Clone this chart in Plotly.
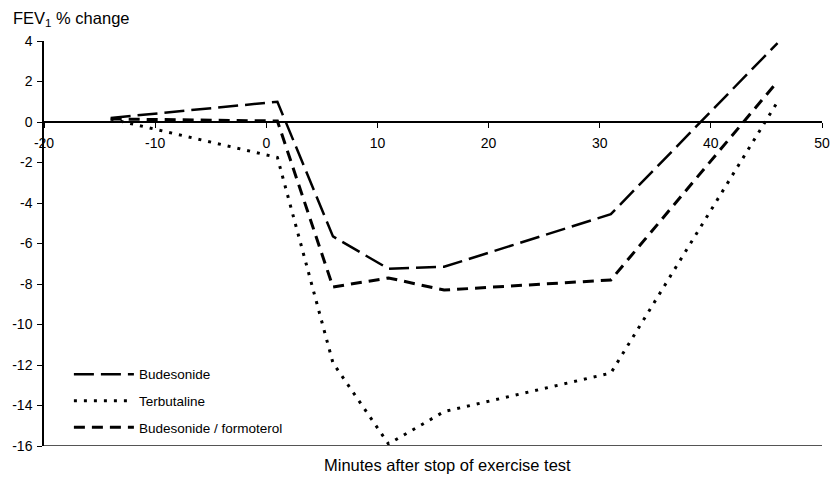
import plotly.graph_objects as go

minutes = [-14, 1, 6, 11, 16, 31, 46]
budesonide = [0.2, 1.0, -5.65, -7.25, -7.15, -4.55, 3.9]
terbutaline = [0.15, -1.75, -11.9, -15.9, -14.3, -12.4, 1.0]
bud_form = [0.15, 0.05, -8.15, -7.7, -8.3, -7.8, 2.0]

series_names = ["Budesonide", "Terbutaline", "Budesonide / formoterol"]
x_ticks = [-20, -10, 0, 10, 20, 30, 40, 50]
y_ticks = [-16, -14, -12, -10, -8, -6, -4, -2, 0, 2, 4]

FONT = "Liberation Sans, Arial, sans-serif"

fig = go.Figure()
fig.add_trace(go.Scatter(x=minutes, y=budesonide, mode="lines", name=series_names[0],
                         legendgroup="a",
                         line=dict(color="black", width=2.5, dash="20px,7px")))
fig.add_trace(go.Scatter(x=minutes, y=terbutaline, mode="lines", name=series_names[1],
                         legendgroup="b",
                         line=dict(color="black", width=3, dash="3px,7px")))
fig.add_trace(go.Scatter(x=minutes, y=bud_form, mode="lines", name=series_names[2],
                         legendgroup="c",
                         line=dict(color="black", width=3, dash="11px,7px")))

fig.update_layout(
    width=838, height=477,
    margin=dict(l=44, r=8, t=41, b=31),
    paper_bgcolor="white", plot_bgcolor="white",
    font=dict(family=FONT, size=13, color="black"),
    showlegend=True,
    legend=dict(x=0.032, y=0.215, xanchor="left", yanchor="top",
                bgcolor="rgba(0,0,0,0)", font=dict(size=13.5, family=FONT),
                tracegroupgap=6, itemwidth=60),
    xaxis=dict(range=[-20, 50], tickvals=x_ticks, ticktext=[str(v) for v in x_ticks],
               showgrid=False, zeroline=False, showline=True, linecolor="black", linewidth=1.5,
               ticks="outside", ticklen=5, tickcolor="black", tickwidth=1,
               ticklabelstandoff=3,
               anchor="free", position=0.8, tickfont=dict(size=14, family=FONT)),
    yaxis=dict(range=[-16, 4], tickvals=y_ticks, ticktext=[str(v) for v in y_ticks],
               showgrid=False, zeroline=False, showline=True, linecolor="black", linewidth=1.5,
               ticks="outside", ticklen=5, tickcolor="black", tickwidth=1,
               ticklabelstandoff=2,
               tickfont=dict(size=14, family=FONT)),
)

fig.add_shape(type="line", xref="paper", yref="y", x0=0, x1=1, y0=-16, y1=-16,
              line=dict(color="#555555", width=2))

fig.add_annotation(text="FEV<sub>1</sub> % change", xref="paper", yref="paper",
                   x=-0.042, y=1.055, xanchor="left", yanchor="middle", showarrow=False,
                   font=dict(size=16.5, family=FONT))
fig.add_annotation(text="Minutes after stop of exercise test", xref="paper", yref="paper",
                   x=0.519, y=-0.047, xanchor="center", yanchor="middle", showarrow=False,
                   font=dict(size=16.5, family=FONT))

fig.write_html("out.html")
